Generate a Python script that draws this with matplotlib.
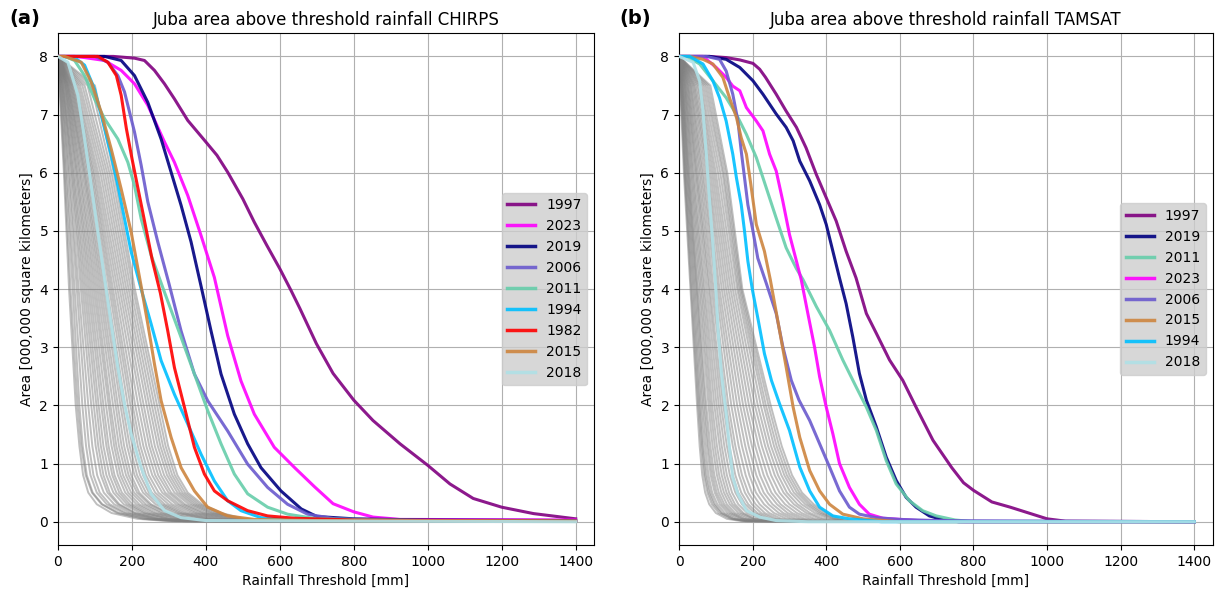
import numpy as np
import matplotlib
matplotlib.use("Agg")
import matplotlib.pyplot as plt

gray_levels = [7.5, 6, 4, 2, 1.3, 0.8, 0.5, 0.3, 0.15, 0.05, 0.01]
max_thresh = 1400

# CHIRPS grey years: threshold [mm] where area drops to each level
chirps_gray_mm = [
    [4, 16, 30, 48, 58, 68, 82, 105, 145, 215, 300],
    [5, 18, 34, 53, 63, 75, 92, 118, 160, 235, 320],
    [6, 21, 40, 58, 67, 78, 94, 120, 165, 230, 310],
    [8, 24, 45, 66, 76, 88, 105, 132, 178, 250, 330],
    [9, 28, 51, 74, 84, 96, 113, 140, 185, 255, 340],
    [10, 31, 56, 82, 93, 106, 124, 152, 196, 265, 345],
    [12, 35, 62, 90, 102, 116, 134, 162, 206, 275, 350],
    [13, 38, 67, 97, 109, 123, 140, 166, 210, 270, 340],
    [14, 41, 72, 104, 116, 131, 150, 178, 222, 290, 360],
    [16, 44, 77, 110, 123, 139, 158, 187, 232, 300, 370],
    [18, 48, 82, 117, 131, 147, 166, 194, 238, 300, 365],
    [19, 51, 87, 123, 137, 153, 173, 202, 248, 315, 380],
    [21, 54, 92, 130, 145, 162, 182, 212, 258, 325, 390],
    [22, 58, 97, 137, 152, 169, 190, 220, 266, 335, 400],
    [24, 61, 102, 142, 158, 176, 198, 230, 278, 345, 410],
    [25, 65, 107, 149, 165, 184, 206, 238, 285, 352, 420],
    [27, 69, 112, 156, 172, 191, 214, 247, 296, 365, 430],
    [28, 72, 117, 162, 179, 198, 220, 252, 298, 360, 425],
    [30, 75, 122, 169, 187, 207, 230, 264, 314, 385, 450],
    [32, 79, 127, 175, 194, 214, 238, 273, 324, 395, 460],
    [34, 83, 133, 182, 201, 222, 246, 281, 332, 405, 470],
    [36, 87, 139, 189, 209, 230, 254, 289, 340, 412, 480],
    [38, 91, 144, 196, 216, 238, 263, 299, 350, 422, 490],
    [40, 95, 149, 202, 223, 246, 272, 309, 362, 432, 500],
    [43, 99, 155, 209, 231, 255, 282, 320, 372, 440, 510],
    [46, 104, 161, 217, 239, 263, 290, 328, 380, 450, 515],
    [50, 109, 167, 225, 247, 271, 299, 337, 390, 460, 520],
    [55, 115, 173, 232, 254, 279, 306, 344, 396, 465, 530],
    [60, 121, 179, 240, 262, 287, 315, 354, 406, 475, 540],
    [66, 127, 185, 247, 270, 295, 323, 362, 414, 485, 545],
    [72, 133, 191, 254, 277, 302, 330, 369, 420, 490, 550],
    [80, 139, 197, 261, 284, 309, 337, 376, 428, 495, 555],
    [90, 145, 203, 268, 291, 316, 344, 383, 435, 500, 560],
    [100, 151, 208, 275, 298, 323, 351, 390, 442, 505, 570],
]

# TAMSAT grey years
tamsat_gray_mm = [
    [3, 13, 31, 49, 56, 63, 71, 82, 100, 130, 170],
    [4, 15, 33, 52, 60, 68, 77, 89, 108, 140, 180],
    [5, 16, 36, 55, 63, 71, 81, 94, 114, 145, 185],
    [6, 18, 39, 58, 66, 75, 85, 98, 117, 148, 180],
    [7, 20, 42, 62, 71, 80, 90, 104, 124, 155, 195],
    [8, 22, 45, 66, 76, 86, 97, 111, 132, 165, 205],
    [9, 24, 48, 70, 80, 91, 102, 117, 139, 172, 215],
    [10, 26, 50, 74, 85, 96, 108, 123, 145, 176, 210],
    [11, 28, 54, 80, 91, 103, 115, 130, 152, 185, 225],
    [13, 31, 58, 85, 97, 109, 122, 138, 161, 195, 235],
    [14, 34, 62, 90, 103, 116, 129, 145, 169, 203, 245],
    [16, 37, 66, 96, 110, 123, 136, 152, 175, 205, 240],
    [17, 40, 70, 102, 116, 130, 144, 161, 185, 218, 255],
    [19, 44, 75, 108, 123, 138, 153, 171, 195, 228, 265],
    [21, 47, 80, 114, 130, 146, 161, 180, 205, 238, 275],
    [23, 50, 84, 120, 137, 153, 169, 188, 213, 246, 285],
    [25, 54, 89, 128, 146, 163, 179, 198, 223, 256, 295],
    [27, 58, 94, 134, 153, 171, 188, 208, 233, 266, 305],
    [30, 62, 100, 142, 162, 181, 198, 219, 245, 278, 315],
    [32, 66, 105, 150, 171, 191, 209, 231, 258, 292, 330],
    [35, 71, 110, 158, 180, 200, 220, 243, 271, 305, 345],
    [38, 76, 116, 166, 189, 210, 230, 254, 283, 317, 355],
    [41, 80, 122, 174, 198, 220, 241, 266, 295, 330, 365],
    [44, 85, 128, 182, 207, 230, 251, 276, 307, 342, 375],
    [48, 90, 134, 190, 216, 240, 262, 288, 320, 356, 390],
    [52, 95, 140, 198, 225, 250, 273, 300, 333, 368, 400],
    [56, 100, 146, 206, 234, 260, 284, 312, 346, 382, 415],
    [60, 106, 152, 214, 242, 269, 293, 322, 356, 392, 425],
    [65, 112, 158, 222, 250, 278, 303, 333, 369, 406, 440],
    [70, 118, 162, 230, 258, 286, 312, 343, 379, 416, 450],
    [75, 122, 166, 236, 265, 293, 320, 351, 386, 422, 455],
    [80, 127, 169, 243, 272, 300, 327, 358, 393, 428, 460],
    [85, 131, 172, 249, 279, 307, 334, 366, 401, 437, 470],
]

# ---- CHIRPS highlighted years (threshold mm, area) ----
chirps_1997_x = [0, 150, 207, 234, 261, 288, 315, 351, 396, 430, 459, 500, 531, 565, 600, 630, 654, 699, 744, 800, 852, 925, 1000, 1060, 1123, 1200, 1286, 1400]
chirps_1997_y = [8, 8, 7.97, 7.93, 7.76, 7.53, 7.27, 6.9, 6.56, 6.3, 6.01, 5.55, 5.15, 4.75, 4.35, 3.98, 3.67, 3.06, 2.55, 2.09, 1.74, 1.34, 0.97, 0.65, 0.40, 0.25, 0.14, 0.05]

chirps_2023_x = [0, 45, 72, 126, 171, 207, 243, 288, 315, 351, 387, 423, 459, 495, 531, 585, 640, 694, 744, 800, 852, 925, 1400]
chirps_2023_y = [8, 8, 7.98, 7.93, 7.76, 7.53, 7.16, 6.53, 6.18, 5.61, 4.92, 4.2, 3.2, 2.42, 1.85, 1.28, 0.93, 0.6, 0.31, 0.17, 0.08, 0.04, 0.03]

chirps_2019_x = [0, 126, 171, 207, 243, 279, 306, 333, 360, 387, 414, 441, 477, 513, 549, 603, 658, 700, 800, 1000, 1400]
chirps_2019_y = [8, 8, 7.93, 7.67, 7.21, 6.58, 6.01, 5.44, 4.81, 4.05, 3.28, 2.54, 1.85, 1.34, 0.93, 0.53, 0.22, 0.09, 0.05, 0.03, 0.02]

chirps_2006_x = [0, 100, 135, 162, 180, 207, 225, 243, 270, 300, 333, 369, 405, 459, 513, 567, 621, 675, 750, 900, 1400]
chirps_2006_y = [8, 8, 7.9, 7.67, 7.39, 6.70, 6.13, 5.50, 4.81, 4.1, 3.28, 2.54, 2.08, 1.56, 0.99, 0.59, 0.30, 0.13, 0.05, 0.02, 0.01]

chirps_2011_x = [0, 18, 45, 72, 99, 126, 162, 189, 207, 225, 252, 285, 333, 369, 405, 441, 477, 513, 567, 621, 700, 1000, 1400]
chirps_2011_y = [8, 8, 7.93, 7.67, 7.27, 6.93, 6.58, 6.18, 5.78, 5.21, 4.58, 4.0, 3.17, 2.54, 1.91, 1.34, 0.82, 0.48, 0.25, 0.13, 0.05, 0.02, 0.01]

chirps_1994_x = [0, 45, 72, 99, 126, 144, 162, 180, 198, 225, 252, 279, 315, 351, 387, 423, 459, 495, 549, 650, 1400]
chirps_1994_y = [8, 7.98, 7.85, 7.44, 6.76, 6.30, 5.78, 5.21, 4.64, 4.0, 3.40, 2.77, 2.19, 1.68, 1.16, 0.70, 0.36, 0.19, 0.07, 0.03, 0.01]

chirps_1982_x = [0, 108, 135, 158, 171, 185, 200, 230, 255, 277, 297, 315, 342, 369, 396, 423, 459, 513, 567, 640, 800, 1400]
chirps_1982_y = [8, 8, 7.9, 7.67, 7.33, 6.76, 6.25, 5.3, 4.5, 3.93, 3.28, 2.65, 1.97, 1.28, 0.82, 0.53, 0.36, 0.19, 0.10, 0.06, 0.03, 0.01]

chirps_2015_x = [0, 18, 63, 90, 117, 144, 171, 198, 225, 243, 261, 279, 306, 333, 369, 405, 459, 531, 700, 1400]
chirps_2015_y = [8, 8, 7.9, 7.56, 7.04, 6.41, 5.72, 4.98, 4.05, 3.40, 2.71, 2.08, 1.45, 0.93, 0.53, 0.25, 0.10, 0.04, 0.02, 0.01]

chirps_2018_x = [0, 27, 54, 72, 90, 108, 126, 144, 162, 180, 198, 225, 252, 288, 333, 400, 1400]
chirps_2018_y = [8, 7.9, 7.33, 6.58, 5.78, 4.98, 4.18, 3.40, 2.65, 2.02, 1.51, 0.93, 0.48, 0.19, 0.07, 0.02, 0.0]

# ---- TAMSAT highlighted years ----
tamsat_1997_x = [0, 83, 128, 165, 201, 219, 235, 264, 291, 319, 345, 373, 400, 427, 454, 481, 509, 536, 572, 608, 644, 690, 741, 773, 800, 850, 900, 950, 1000, 1050, 1400]
tamsat_1997_y = [8, 8, 7.98, 7.94, 7.88, 7.78, 7.64, 7.35, 7.06, 6.78, 6.43, 5.97, 5.57, 5.17, 4.65, 4.19, 3.58, 3.24, 2.78, 2.43, 1.97, 1.40, 0.93, 0.67, 0.54, 0.34, 0.25, 0.15, 0.05, 0.01, 0.0]

tamsat_2019_x = [0, 83, 128, 165, 201, 228, 264, 291, 310, 328, 355, 382, 400, 418, 436, 454, 472, 490, 509, 536, 563, 590, 617, 644, 680, 720, 760, 1400]
tamsat_2019_y = [8, 8, 7.95, 7.81, 7.58, 7.35, 7.01, 6.78, 6.55, 6.20, 5.86, 5.45, 5.11, 4.65, 4.19, 3.75, 3.18, 2.55, 2.09, 1.63, 1.11, 0.71, 0.42, 0.25, 0.10, 0.03, 0.0, 0.0]

tamsat_2011_x = [0, 20, 56, 92, 128, 156, 183, 210, 237, 264, 291, 319, 337, 373, 409, 445, 481, 509, 536, 563, 590, 626, 662, 699, 750, 800, 1400]
tamsat_2011_y = [8, 8, 7.87, 7.58, 7.29, 7.0, 6.66, 6.26, 5.74, 5.22, 4.71, 4.35, 4.16, 3.70, 3.29, 2.78, 2.32, 1.97, 1.57, 1.05, 0.65, 0.36, 0.19, 0.10, 0.03, 0.0, 0.0]

tamsat_2023_x = [0, 65, 101, 128, 146, 165, 183, 210, 228, 246, 264, 282, 300, 319, 332, 350, 368, 382, 400, 418, 436, 463, 490, 517, 554, 650, 780, 1400]
tamsat_2023_y = [8, 8, 7.81, 7.64, 7.49, 7.41, 7.12, 6.89, 6.72, 6.32, 6.03, 5.51, 4.94, 4.48, 4.16, 3.58, 3.01, 2.49, 1.97, 1.51, 1.0, 0.59, 0.30, 0.13, 0.06, 0.02, 0.0, 0.0]

tamsat_2006_x = [0, 74, 110, 128, 146, 160, 169, 178, 187, 201, 214, 237, 264, 282, 305, 326, 355, 382, 409, 436, 463, 490, 536, 600, 700, 1400]
tamsat_2006_y = [8, 8, 7.95, 7.75, 7.35, 6.89, 6.37, 5.91, 5.45, 4.99, 4.53, 4.1, 3.58, 3.01, 2.43, 2.09, 1.74, 1.34, 0.94, 0.53, 0.25, 0.13, 0.07, 0.04, 0.02, 0.0]

tamsat_2015_x = [0, 29, 65, 92, 119, 137, 156, 169, 183, 195, 210, 232, 248, 273, 291, 310, 328, 355, 382, 409, 445, 500, 600, 1400]
tamsat_2015_y = [8, 8, 7.95, 7.87, 7.64, 7.29, 6.95, 6.60, 6.32, 5.8, 5.11, 4.65, 4.16, 3.29, 2.66, 1.97, 1.45, 0.88, 0.53, 0.30, 0.13, 0.05, 0.0, 0.0]

tamsat_1994_x = [0, 29, 65, 92, 110, 128, 146, 156, 169, 178, 187, 199, 215, 232, 251, 273, 300, 328, 355, 382, 418, 463, 550, 1400]
tamsat_1994_y = [8, 8, 7.87, 7.58, 7.29, 6.89, 6.32, 5.91, 5.45, 4.99, 4.48, 4.0, 3.47, 2.89, 2.43, 2.03, 1.57, 0.94, 0.53, 0.25, 0.10, 0.05, 0.0, 0.0]

tamsat_2018_x = [0, 38, 56, 65, 74, 83, 92, 100, 106, 115, 128, 137, 146, 160, 183, 219, 264, 350, 1400]
tamsat_2018_y = [8, 7.9, 7.58, 7.06, 6.32, 5.51, 4.76, 4.0, 3.29, 2.55, 1.86, 1.28, 0.76, 0.48, 0.19, 0.08, 0.02, 0.0, 0.0]

year_colors = {
    "1997": "purple", "2023": "magenta", "2019": "navy", "2006": "slateblue",
    "2011": "mediumaquamarine", "1994": "deepskyblue", "1982": "red",
    "2015": "peru", "2018": "powderblue",
}

chirps_years = [
    ("1997", chirps_1997_x, chirps_1997_y),
    ("2023", chirps_2023_x, chirps_2023_y),
    ("2019", chirps_2019_x, chirps_2019_y),
    ("2006", chirps_2006_x, chirps_2006_y),
    ("2011", chirps_2011_x, chirps_2011_y),
    ("1994", chirps_1994_x, chirps_1994_y),
    ("1982", chirps_1982_x, chirps_1982_y),
    ("2015", chirps_2015_x, chirps_2015_y),
    ("2018", chirps_2018_x, chirps_2018_y),
]
tamsat_years = [
    ("1997", tamsat_1997_x, tamsat_1997_y),
    ("2019", tamsat_2019_x, tamsat_2019_y),
    ("2011", tamsat_2011_x, tamsat_2011_y),
    ("2023", tamsat_2023_x, tamsat_2023_y),
    ("2006", tamsat_2006_x, tamsat_2006_y),
    ("2015", tamsat_2015_x, tamsat_2015_y),
    ("1994", tamsat_1994_x, tamsat_1994_y),
    ("2018", tamsat_2018_x, tamsat_2018_y),
]

dpi = 100
fig = plt.figure(figsize=(12.2, 5.92), dpi=dpi)
ax_a = fig.add_axes([0.0475, 0.0794, 0.4395, 0.8646])
ax_b = fig.add_axes([0.5566, 0.0794, 0.4374, 0.8646])


def draw_panel(ax, gray_rows, years, title):
    ys = [8] + gray_levels + [0]
    for row in gray_rows:
        ax.plot([0] + row + [max_thresh], ys, color="gray", alpha=0.5, lw=1.4, zorder=2)
    for yr, x, y in years:
        ax.plot(x, y, color=year_colors[yr], lw=2.2, alpha=0.9, label=yr, zorder=3)
    ax.set_title(title)
    ax.set_xlabel("Rainfall Threshold [mm]")
    ax.set_ylabel("Area [000,000 square kilometers]")
    ax.set_xlim(0, 1450)
    ax.set_ylim(-0.4, 8.4)
    ax.grid(True, zorder=0)
    leg = ax.legend(loc="center right", facecolor="#cdcdcd", framealpha=0.8)
    for line in leg.get_lines():
        line.set_linewidth(2.5)


draw_panel(ax_a, chirps_gray_mm, chirps_years, "Juba area above threshold rainfall CHIRPS")
draw_panel(ax_b, tamsat_gray_mm, tamsat_years, "Juba area above threshold rainfall TAMSAT")

fig.text(0.008, 0.985, "(a)", fontsize=14, fontweight="bold", va="top")
fig.text(0.508, 0.985, "(b)", fontsize=14, fontweight="bold", va="top")

fig.savefig("out.png", dpi=dpi)
